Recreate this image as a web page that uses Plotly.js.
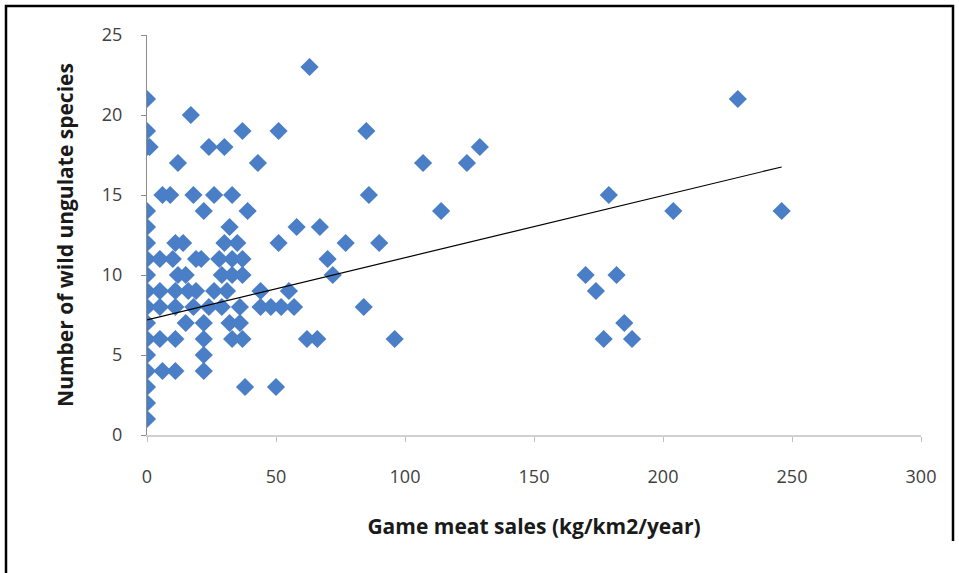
<!DOCTYPE html>
<html>
<head>
<meta charset="utf-8">
<script src="https://cdn.plot.ly/plotly-3.0.1.min.js"></script>
<style>html,body{margin:0;padding:0;background:#fff;}#chart{width:959px;height:573px;}</style>
</head>
<body>
<div id="chart"></div>
<script>
// Game meat sales (kg/km2/year)
const salesX = [
  0,0,0,0,0,0,0,0,0,0,0,0,0,0,0,0,0,
  1,63,17,229,37,51,85,24,30,129,12,43,107,124,
  6,9,18,26,33,86,179,
  22,39,114,204,246,
  32,58,67,
  11,14,30,35,51,77,90,
  5,10,19,21,28,33,37,70,
  12,15,29,33,37,72,170,182,
  5,11,16,19,26,31,44,55,174,
  5,11,18,24,29,36,44,48,52,57,84,
  15,22,32,36,185,
  5,11,22,33,37,62,66,96,177,188,
  22,
  6,11,22,
  38,50
];
// Number of wild ungulate species
const speciesY = [
  1,2,3,4,5,6,7,8,9,10,11,12,13,14,18,19,21,
  18,23,20,21,19,19,19,18,18,18,17,17,17,17,
  15,15,15,15,15,15,15,
  14,14,14,14,14,
  13,13,13,
  12,12,12,12,12,12,12,
  11,11,11,11,11,11,11,11,
  10,10,10,10,10,10,10,10,
  9,9,9,9,9,9,9,9,9,
  8,8,8,8,8,8,8,8,8,8,8,
  7,7,7,7,7,
  6,6,6,6,6,6,6,6,6,6,
  5,
  4,4,4,
  3,3
];
// Linear trendline end points
const trendX = [0, 246];
const trendY = [7.2, 16.75];

const xTicks = [0, 50, 100, 150, 200, 250, 300];
const yTicks = [0, 5, 10, 15, 20, 25];

const traces = [
  {
    x: salesX, y: speciesY, type: 'scatter', mode: 'markers',
    marker: {symbol: 'diamond', size: 14, color: '#4A7EC6', line: {width: 0}},
    hoverinfo: 'x+y', showlegend: false
  },
  {
    x: trendX, y: trendY, type: 'scatter', mode: 'lines',
    line: {color: '#000000', width: 1.2},
    hoverinfo: 'skip', showlegend: false
  }
];

// helpers to place the image frame in pixels
const L = 147, R = 38, T = 35, B = 138, W = 959, H = 573;
const pw = W - L - R, ph = H - T - B;
const px = v => (v - L) / pw;
const py = v => (H - B - v) / ph;

const layout = {
  width: W, height: H,
  margin: {l: L, r: R, t: T, b: B, pad: 0},
  paper_bgcolor: '#ffffff', plot_bgcolor: '#ffffff',
  font: {family: '"Open Sans", "Noto Sans", sans-serif', color: '#404040'},
  xaxis: {
    range: [0, 300], tickvals: xTicks, ticktext: xTicks.map(String),
    showgrid: false, zeroline: false,
    showline: true, linecolor: '#D0D0D0', linewidth: 1.5,
    ticks: 'outside', ticklen: 5, tickcolor: '#BFBFBF', tickwidth: 1,
    ticklabelstandoff: 20,
    tickfont: {size: 18, color: '#404040'},
    title: {text: '<b>Game meat sales (kg/km2/year)</b>', standoff: 32,
            font: {size: 21, color: '#1a1a1a'}}
  },
  yaxis: {
    range: [0, 25], tickvals: yTicks, ticktext: yTicks.map(String),
    showgrid: false, zeroline: false,
    showline: true, linecolor: '#8C8C8C', linewidth: 1,
    ticks: 'outside', ticklen: 5, tickcolor: '#8C8C8C', tickwidth: 1,
    ticklabelstandoff: 15,
    tickfont: {size: 18, color: '#404040'},
    title: {text: '<b>Number of wild ungulate species</b>', standoff: 22,
            font: {size: 21, color: '#1a1a1a'}}
  },
  shapes: [
    {type: 'path', xref: 'paper', yref: 'paper',
     path: `M ${px(6)},${py(573)} L ${px(6)},${py(6)} L ${px(953)},${py(6)} L ${px(953)},${py(541)}`,
     line: {color: '#000000', width: 2.5}, layer: 'above'}
  ],
  showlegend: false
};

Plotly.newPlot('chart', traces, layout, {staticPlot: true, displayModeBar: false});
</script>
</body>
</html>
